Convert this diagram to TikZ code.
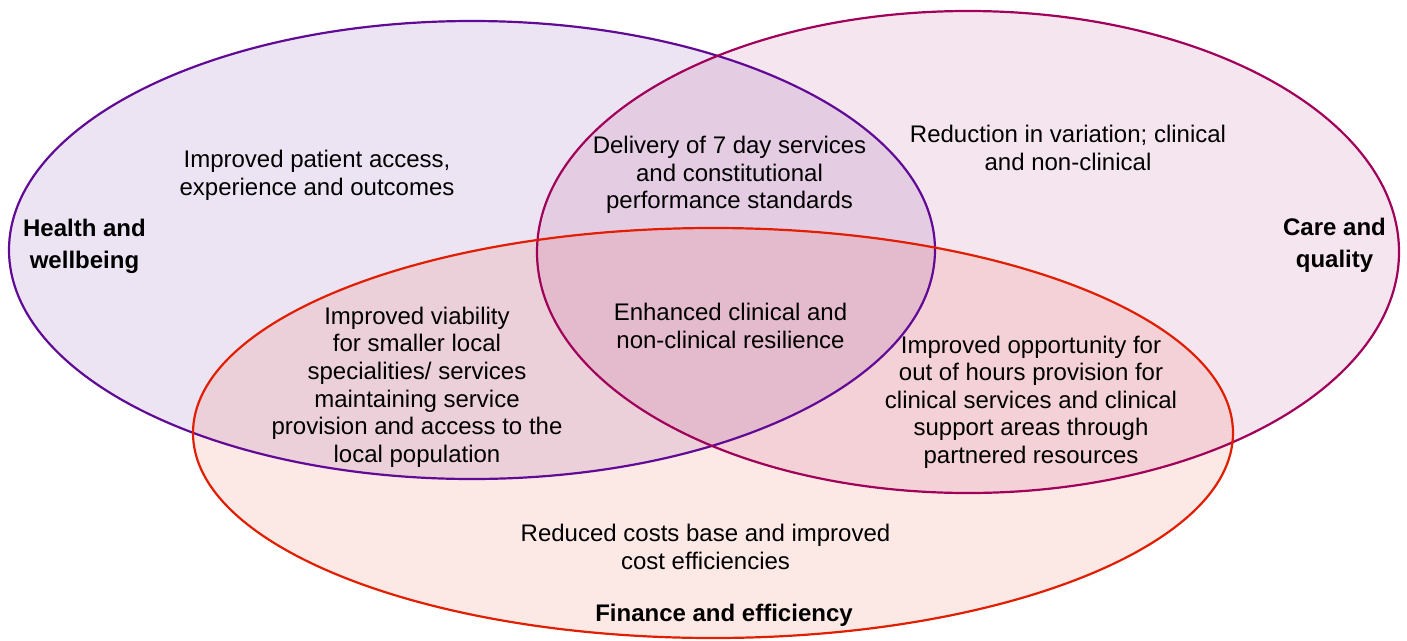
\documentclass[tikz,border=0pt]{standalone}
\usepackage{fontspec}
\setmainfont{Liberation Sans}
\definecolor{hwline}{RGB}{96,10,150}
\definecolor{cqline}{RGB}{160,0,90}
\definecolor{feline}{RGB}{225,30,0}
\definecolor{hwfill}{RGB}{112,48,160}
\definecolor{cqfill}{RGB}{160,0,90}
\definecolor{fefill}{RGB}{224,30,0}
\tikzset{
  txt/.style={align=center, font=\fontsize{24}{27.6}\selectfont, inner sep=0pt},
  lbl/.style={align=center, font=\fontsize{24}{32}\selectfont\bfseries, inner sep=0pt},
  ring/.style={line width=2.2pt}
}
\begin{document}
\begin{tikzpicture}[x=1pt,y=-1pt]
\useasboundingbox (0,0) rectangle (1407,640);
% fills
\fill[hwfill, fill opacity=0.13] (472,250) ellipse [x radius=463, y radius=229];
\fill[cqfill, fill opacity=0.10] (968,252) ellipse [x radius=431, y radius=241];
\fill[fefill, fill opacity=0.10] (713,433) ellipse [x radius=520, y radius=205];
% outlines
\draw[ring, hwline] (472,250) ellipse [x radius=463, y radius=229];
\draw[ring, cqline] (968,252) ellipse [x radius=431, y radius=241];
\draw[ring, feline] (713,433) ellipse [x radius=520, y radius=205];
% labels
\node[lbl] (hw) at (84.5,246) {Health and\\wellbeing};
\node[lbl] (cq) at (1334.5,245) {Care and\\quality};
\node[lbl] (fe) at (724,615) {Finance and efficiency};
% texts
\node[txt] (t1) at (317,175) {Improved patient access,\\experience and outcomes};
\node[txt] (t2) at (729.5,175) {Delivery of 7 day services\\and constitutional\\performance standards};
\node[txt] (t3) at (1068,148) {Reduction in variation; clinical\\and non-clinical};
\node[txt] (t4) at (730.5,326) {Enhanced clinical and\\non-clinical resilience};
\node[txt] (t5) at (417,387) {Improved viability\\for smaller local\\specialities/ services\\maintaining service\\provision and access to the\\local population};
\node[txt] (t6) at (1031,402) {Improved opportunity for\\out of hours provision for\\clinical services and clinical\\support areas through\\partnered resources};
\node[txt] (t7) at (705.5,547) {Reduced costs base and improved\\cost efficiencies};
\end{tikzpicture}
\end{document}
